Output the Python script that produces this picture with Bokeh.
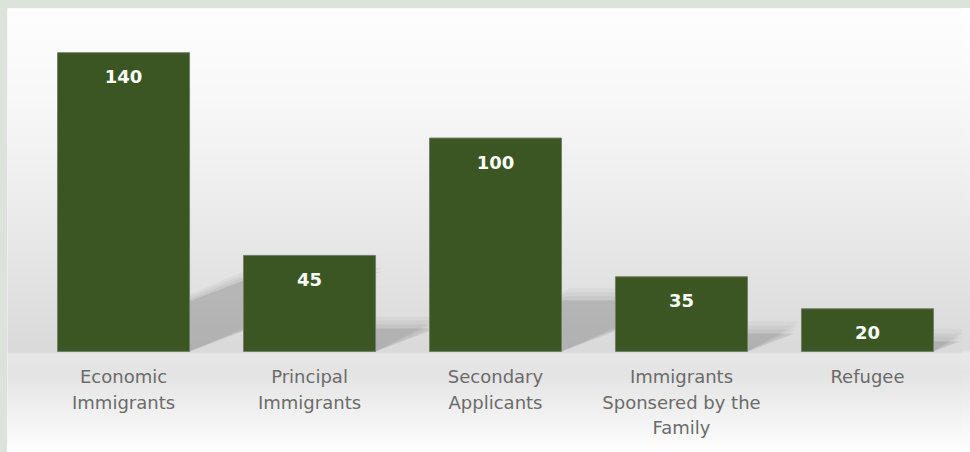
import numpy as np
from bokeh.plotting import figure
from bokeh.models import Range1d, ColumnDataSource
from bokeh.core.properties import value
from bokeh.embed import file_html
from bokeh.resources import INLINE

# ---- data ----
categories = ["Economic\nImmigrants", "Principal\nImmigrants", "Secondary\nApplicants",
              "Immigrants\nSponsered by the\nFamily", "Refugee"]
counts = [140, 45, 100, 35, 20]
value_labels = ["140", "45", "100", "35", "20"]

BAR = "#3b5623"
SAGE = "#dbe3da"
W, H = 962, 444
BL, BT = 7, 8
FW, FH = W - BL, H - BT
XR = (-0.624, 4.511)
YR = (-43.6, 160.7)

p = figure(width=W, height=H, output_backend="svg", toolbar_location=None,
           x_range=Range1d(*XR), y_range=Range1d(*YR),
           x_axis_location=None, y_axis_location=None,
           min_border_left=BL, min_border_top=BT, min_border_right=0, min_border_bottom=0)
p.grid.visible = False
p.outline_line_color = None
p.background_fill_color = "white"
p.border_fill_color = SAGE

# background vertical gradient (styling only)
stops_y = np.array([0, 92, 192, 292, 342, 343, 345, 365, 395, 425, 436])  # px from frame top
stops_v = np.array([254, 248, 237, 224, 218, 218, 232, 228, 238, 249, 253])
rows = np.arange(FH)
g = np.interp(rows, stops_y, stops_v).astype(np.uint32)[::-1]  # bottom row first
img = np.empty((FH, 2), dtype=np.uint32)
view = img.view(dtype=np.uint8).reshape((FH, 2, 4))
view[:, :, 0] = g[:, None]
view[:, :, 1] = g[:, None]
view[:, :, 2] = g[:, None]
view[:, :, 3] = 255
p.image_rgba(image=[img], x=XR[0], y=YR[0], dw=XR[1] - XR[0], dh=YR[1] - YR[0])

xs_pos = list(range(len(categories)))
half = 0.355

# soft cast shadows
px_per_x = FW / (XR[1] - XR[0])
px_per_y = FH / (YR[1] - YR[0])
layers = [(12, 0.03), (8, 0.035), (4, 0.04), (0, 0.09)]
for grow_px, alpha in layers:
    sx, sy = [], []
    for x, v in zip(xs_pos, counts):
        hpx = v * px_per_y
        dx = 0.63 * hpx / px_per_x
        top = 0.24 * v + grow_px / px_per_y
        gx = grow_px * 0.5 / px_per_x
        sx.append([x - half, x + half, x + half + dx + gx, x - half + dx + gx])
        sy.append([0, 0, top, top])
    p.patches(xs=sx, ys=sy, fill_color="black", fill_alpha=alpha, line_color=None)

src = ColumnDataSource(dict(x=xs_pos, top=counts, lab=value_labels, cat=categories))
p.vbar(x="x", top="top", bottom=0, width=2 * half, source=src,
       fill_color=BAR, line_color="#71806a", line_width=1)

p.text(x="x", y="top", text="lab", source=src, y_offset=24,
       text_align="center", text_baseline="middle", text_color="white",
       text_font=value("DejaVu Sans"), text_font_style="bold", text_font_size="18px")

p.text(x="x", y=0, text="cat", source=src, y_offset=15,
       text_align="center", text_baseline="top", text_color="#6b6b6b",
       text_font=value("DejaVu Sans"), text_font_size="18px", text_line_height=1.21)

css = ("<style>html{background-color:#fdfdfd;background-image:"
       "linear-gradient(to right,#dbe3da 0px,#dbe3da 7px,rgba(0,0,0,0) 7px),"
       "linear-gradient(to bottom,"
       "#dbe3da 0px,#dbe3da 8px,#fefefe 8px,#f8f8f8 100px,#ededed 200px,#e0e0e0 300px,"
       "#dadada 350px,#e8e8e8 353px,#e4e4e4 373px,#eeeeee 403px,#f9f9f9 433px,#fdfdfd 452px);"
       "background-repeat:no-repeat;background-size:100% 452px;}"
       "body{background:transparent;}</style>")
html = file_html(p, INLINE)
html = html.replace("<head>", "<head>" + css, 1)
open("out.html", "w").write(html)
